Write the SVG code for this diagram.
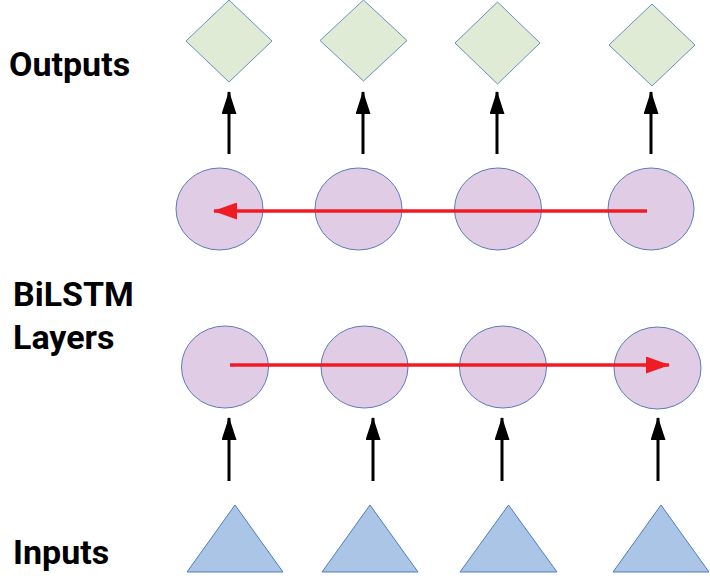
<svg xmlns="http://www.w3.org/2000/svg" width="710" height="579" viewBox="0 0 710 579">
<style>
.lbl{font-family:Roboto,"Liberation Sans",sans-serif;font-weight:bold;font-size:34px;fill:#000}
.out{fill:#dfebd5;stroke:#6c8ebf;stroke-width:1}
.cell{fill:#e0cce4;stroke:#5b7cbc;stroke-width:1}
.inp{fill:#abc5e7;stroke:#4f7cc0;stroke-width:1}
.up{stroke:#000;stroke-width:3;fill:none;marker-end:url(#ah)}
.red{stroke:#ee1c25;stroke-width:3.5;fill:none;marker-end:url(#rh)}
</style>
<defs>
<marker id="ah" markerUnits="userSpaceOnUse" markerWidth="23" markerHeight="15" viewBox="0 0 23 15" refX="22" refY="7.5" orient="auto">
<path d="M0,0 L23,7.5 L0,15 Z" fill="#000"/>
</marker>
<marker id="rh" markerUnits="userSpaceOnUse" markerWidth="24" markerHeight="17" viewBox="0 0 24 17" refX="23" refY="8.5" orient="auto">
<path d="M0,0 L24,8.5 L0,17 Z" fill="#ee1c25"/>
</marker>
</defs>
<g id="labels">
<text class="lbl" x="9" y="76">Outputs</text>
<text class="lbl" x="13" y="306">BiLSTM</text>
<text class="lbl" x="13" y="349">Layers</text>
<text class="lbl" x="13" y="564">Inputs</text>
</g>
<g id="out1"><polygon class="out" points="229,0 272,41 229,82 186,41"/></g>
<g id="out2"><polygon class="out" points="363.5,0 407,40.5 363.5,81 320,40.5"/></g>
<g id="out3"><polygon class="out" points="497.5,2 540,43 497.5,84 455,43"/></g>
<g id="out4"><polygon class="out" points="652,4 695,45 652,86 609,45"/></g>
<g id="top1"><ellipse class="cell" cx="219.5" cy="209" rx="43.5" ry="41"/></g>
<g id="top2"><ellipse class="cell" cx="358.5" cy="209" rx="43.5" ry="41"/></g>
<g id="top3"><ellipse class="cell" cx="498" cy="209" rx="43.5" ry="41"/></g>
<g id="top4"><ellipse class="cell" cx="651" cy="209" rx="43" ry="41"/></g>
<g id="bot1"><ellipse class="cell" cx="225" cy="367" rx="43.5" ry="41"/></g>
<g id="bot2"><ellipse class="cell" cx="364.5" cy="367" rx="43.5" ry="41"/></g>
<g id="bot3"><ellipse class="cell" cx="503" cy="367" rx="43.5" ry="41"/></g>
<g id="bot4"><ellipse class="cell" cx="657.5" cy="368" rx="43.5" ry="41"/></g>
<g id="in1"><polygon class="inp" points="235,505 283,572 187,572"/></g>
<g id="in2"><polygon class="inp" points="370,505 418,572 322,572"/></g>
<g id="in3"><polygon class="inp" points="508.5,505 557,572 460,572"/></g>
<g id="in4"><polygon class="inp" points="661,505 709,572 613,572"/></g>
<g id="connectors">
<line class="up" x1="229" y1="154" x2="229" y2="92"/>
<line class="up" x1="363" y1="154" x2="363" y2="92"/>
<line class="up" x1="497" y1="154" x2="497" y2="92"/>
<line class="up" x1="651" y1="154" x2="651" y2="92"/>
<line class="up" x1="229" y1="481" x2="229" y2="418"/>
<line class="up" x1="373" y1="481" x2="373" y2="418"/>
<line class="up" x1="502" y1="481" x2="502" y2="418"/>
<line class="up" x1="658" y1="481" x2="658" y2="418"/>
<line class="red" x1="647" y1="211" x2="214" y2="211"/>
<line class="red" x1="230" y1="365" x2="669" y2="365"/>
</g>
</svg>
